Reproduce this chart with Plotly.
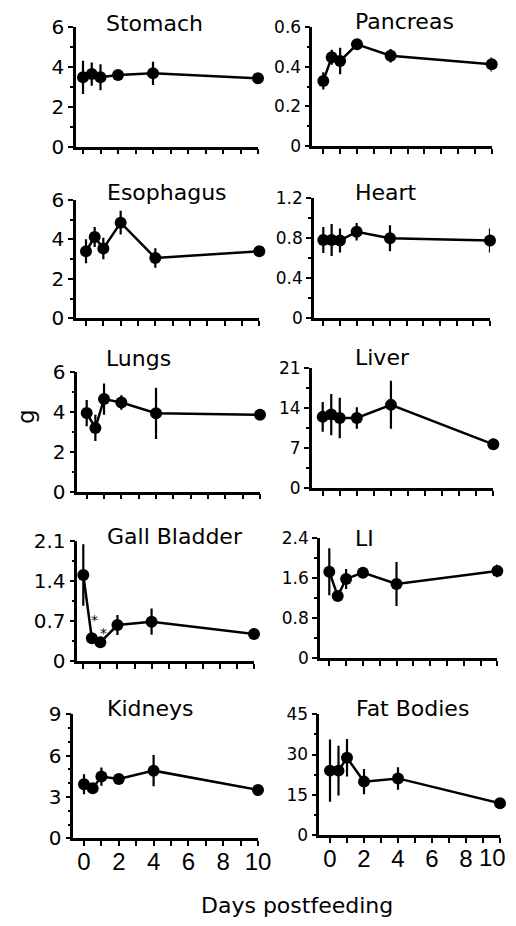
import plotly.graph_objects as go

# ---------------- data ----------------
days = [0, 0.5, 1, 2, 4, 10]

organs = ["Stomach", "Pancreas", "Esophagus", "Heart", "Lungs",
          "Liver", "Gall Bladder", "LI", "Kidneys", "Fat Bodies"]

stomach = [3.47, 3.63, 3.47, 3.58, 3.67, 3.42]
stomach_err = [0.83, 0.58, 0.65, 0.12, 0.58, 0.10]

pancreas = [0.329, 0.449, 0.430, 0.514, 0.456, 0.413]
pancreas_err = [0.044, 0.038, 0.067, 0.020, 0.034, 0.036]

esophagus = [3.40, 4.12, 3.54, 4.85, 3.06, 3.40]
esophagus_err = [0.61, 0.51, 0.55, 0.60, 0.49, 0.15]

heart = [0.783, 0.783, 0.777, 0.866, 0.800, 0.777]
heart_err = [0.13, 0.16, 0.12, 0.087, 0.13, 0.12]

lungs = [3.93, 3.19, 4.63, 4.46, 3.92, 3.85]
lungs_err = [0.66, 0.66, 0.78, 0.36, 1.28, 0.12]

liver = [12.5, 12.9, 12.3, 12.3, 14.6, 7.7]
liver_err = [2.6, 3.6, 3.55, 1.9, 4.2, 1.0]

gall = [1.505, 0.397, 0.327, 0.63, 0.688, 0.473]
gall_err = [0.54, 0.05, 0.05, 0.175, 0.23, 0.06]

li = [1.733, 1.247, 1.587, 1.713, 1.487, 1.747]
li_err = [0.47, 0.08, 0.20, 0.08, 0.44, 0.13]

kidneys = [3.92, 3.63, 4.48, 4.31, 4.91, 3.51]
kidneys_err = [0.73, 0.25, 0.66, 0.30, 1.13, 0.36]

fat = [24.0, 24.0, 28.8, 19.9, 21.1, 11.8]
fat_err = [11.6, 9.3, 7.0, 4.7, 4.2, 1.0]

series = [stomach, pancreas, esophagus, heart, lungs, liver, gall, li, kidneys, fat]
errors = [stomach_err, pancreas_err, esophagus_err, heart_err, lungs_err,
          liver_err, gall_err, li_err, kidneys_err, fat_err]

# y axis: (max, major step, minor step)
y_max = [6, 0.6, 6, 1.2, 6, 21, 2.1, 2.4, 9, 45]
y_major = [2, 0.2, 2, 0.4, 2, 7, 0.7, 0.8, 3, 15]
y_minor = [1, 0.1, 1, 0.2, 1, 3.5, 0.35, 0.4, 1, 7.5]

x_tickvals = list(range(0, 11))
x_ticktext = [str(v) if v % 2 == 0 else "" for v in x_tickvals]
# last panel: its "10" sits at the page edge, drawn as a right-aligned label
x_ticktext_last = [t if v != 10 else "" for v, t in zip(x_tickvals, x_ticktext)]

# ---------------- layout geometry (page pixels) ----------------
PAGE_W, PAGE_H = 516, 926
OFF = 8                      # default body margin of the html page
W, H = PAGE_W - 2 * OFF, PAGE_H - 2 * OFF


def px(x):
    return (x - OFF) / W


def py(y):
    return 1 - (y - OFF) / H


# (y-axis x, x-tick 0, x-tick 10, top of y axis, x-axis y)
geom = [
    (76.0, 83.0, 258.0, 26.7, 146.7),
    (312.3, 323.3, 491.7, 27.3, 146.0),
    (76.0, 86.0, 259.3, 200.0, 318.3),
    (314.0, 323.3, 490.0, 198.3, 318.3),
    (77.3, 86.7, 260.0, 371.7, 491.7),
    (311.7, 322.7, 493.3, 368.3, 488.3),
    (77.3, 83.3, 254.0, 541.0, 661.0),
    (320.0, 329.3, 497.3, 538.3, 658.3),
    (73.3, 84.0, 258.0, 714.3, 838.3),
    (319.3, 330.0, 500.0, 714.3, 835.0),
]
title_pos = [(104, 23), (353, 22), (105, 193), (353, 193), (104, 359),
             (353, 358), (105, 536), (353, 538), (105, 708), (354, 708)]

FONT = "DejaVu Sans"
XFONT = "Liberation Sans"
fig = go.Figure()
layout = dict(width=W, height=H, margin=dict(l=0, r=0, t=0, b=0),
              paper_bgcolor="white", plot_bgcolor="white", showlegend=False,
              font=dict(family=FONT, color="black"))
annotations = []

for i in range(10):
    n = i + 1
    xa = "x" if n == 1 else f"x{n}"
    ya = "y" if n == 1 else f"y{n}"
    axl, x0, x10, yt, yb = geom[i]
    ppd = (x10 - x0) / 10.0
    xr0 = (axl - x0) / ppd
    left_col = (i % 2 == 0)
    bottom = i >= 8

    fig.add_trace(go.Scatter(
        x=days, y=series[i], xaxis=xa, yaxis=ya, mode="lines+markers",
        line=dict(color="black", width=2.5),
        marker=dict(color="black", size=12),
        error_y=dict(type="data", array=errors[i], visible=True,
                     color="black", thickness=2.2, width=0),
        cliponaxis=False, hoverinfo="skip"))

    xkey = "xaxis" if n == 1 else f"xaxis{n}"
    ykey = "yaxis" if n == 1 else f"yaxis{n}"
    layout[xkey] = dict(
        domain=[px(axl), px(x10)], range=[xr0, 10], anchor=ya,
        automargin=False, ticklabeloverflow="allow", ticklabelstandoff=-5,
        showgrid=False, zeroline=False, showline=True, linecolor="black",
        linewidth=2.5, ticks="outside", ticklen=5, tickwidth=2,
        tickcolor="black", tickmode="array", tickvals=x_tickvals,
        ticktext=x_ticktext_last if i == 9 else x_ticktext,
        showticklabels=bottom,
        tickfont=dict(size=24, family=XFONT, color="black"))
    layout[ykey] = dict(
        domain=[py(yb), py(yt)], range=[0, y_max[i]], anchor=xa,
        automargin=False,
        showgrid=False, zeroline=False, showline=True, linecolor="black",
        linewidth=2.5, ticks="outside", ticklen=5, tickwidth=2,
        tickcolor="black", tickmode="linear", tick0=0, dtick=y_major[i],
        minor=dict(ticks="outside", ticklen=3, tickwidth=1.5,
                   tickcolor="black", dtick=y_minor[i], tick0=0),
        tickfont=dict(size=20 if left_col else 17, family=FONT, color="black"))

    tx, ty = title_pos[i]
    annotations.append(dict(text=organs[i], x=px(tx), y=py(ty),
                            xref="paper", yref="paper", xanchor="left",
                            yanchor="middle", showarrow=False,
                            font=dict(size=22, family=FONT, color="black")))

# "10" of the last panel, kept inside the page
annotations.append(dict(text=str(x_tickvals[-1]), x=px(508), y=py(857),
                        xref="paper", yref="paper", showarrow=False,
                        xanchor="right", yanchor="middle",
                        font=dict(size=24, family=XFONT, color="black")))

# significance stars on the gall bladder panel
annotations.append(dict(text="*", x=0.68, y=0.78, xref="x7", yref="y7",
                        showarrow=False, yshift=-4,
                        font=dict(size=14, family=FONT, color="black")))
annotations.append(dict(text="*", x=1.18, y=0.56, xref="x7", yref="y7",
                        showarrow=False, yshift=-4,
                        font=dict(size=14, family=FONT, color="black")))

annotations.append(dict(text="Days postfeeding", x=px(297), y=py(905),
                        xref="paper", yref="paper", showarrow=False,
                        xanchor="center", yanchor="middle",
                        font=dict(size=22, family=FONT, color="black")))
annotations.append(dict(text="g", x=px(26), y=py(417),
                        xref="paper", yref="paper", showarrow=False,
                        textangle=-90, xanchor="center", yanchor="middle",
                        font=dict(size=23, family=FONT, color="black")))

layout["annotations"] = annotations
fig.update_layout(**layout)

fig.write_html("out.html", config={"displayModeBar": False})
